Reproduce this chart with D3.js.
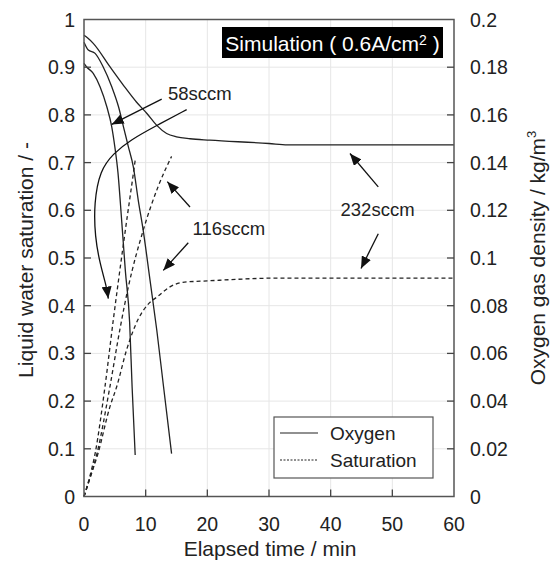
<!DOCTYPE html>
<html>
<head>
<meta charset="utf-8">
<script src="https://cdn.jsdelivr.net/npm/d3@7"></script>
<style>
  body { margin: 0; background: #fff; }
  svg text { font-family: "Liberation Sans", Arial, sans-serif; fill: #222; }
</style>
</head>
<body>
<div id="chart"></div>
<script>
// *********************************************
// DATA
// *********************************************

// oxygen gas density, kg/m3 (right axis)
var o2Time58  = [0, 0.4, 1.5, 2.6, 3.7, 4.5, 5.0, 5.5, 6.1, 6.7, 7.4, 7.8, 8.3];
var o2Dens58  = [0.1816, 0.1802, 0.1774, 0.1718, 0.1634, 0.155, 0.1466, 0.136, 0.116, 0.0948, 0.073, 0.046, 0.0174];
var o2Time116 = [0, 0.7, 1.8, 3.1, 4.5, 5.6, 6.4, 7.2, 8.0, 8.8, 9.6, 10.7, 11.8, 12.9, 14.2];
var o2Dens116 = [0.1905, 0.1872, 0.1858, 0.1802, 0.1718, 0.1634, 0.155, 0.1466, 0.1382, 0.1242, 0.1116, 0.0908, 0.0698, 0.046, 0.018];
var o2Time232 = [0, 0.6, 1.5, 4.2, 6.4, 8.5, 10.2, 11.8, 13.4, 15.0, 17.2, 20.4, 30, 33, 60];
var o2Dens232 = [0.1934, 0.1922, 0.19, 0.1802, 0.1724, 0.1654, 0.1606, 0.1556, 0.1522, 0.1508, 0.15, 0.1494, 0.148, 0.1474, 0.1474];

// liquid water saturation, - (left axis)
var satTime58  = [0, 0.9, 1.8, 3.4, 4.75, 6.4, 8.0, 8.3];
var satVal58   = [0, 0.04, 0.09, 0.23, 0.37, 0.53, 0.677, 0.705];
var satTime116 = [0, 1.0, 2.1, 4.2, 5.8, 7.2, 9.6, 12.0, 14.2];
var satVal116  = [0, 0.04, 0.09, 0.23, 0.349, 0.44, 0.558, 0.649, 0.713];
var satTime232 = [0, 1.0, 2.2, 4.2, 5.3, 6.9, 8.8, 10.2, 12.0, 14.0, 16.0, 20.0, 32.0, 60];
var satVal232  = [0, 0.04, 0.087, 0.188, 0.23, 0.307, 0.372, 0.40, 0.42, 0.44, 0.449, 0.452, 0.458, 0.458];

// axis ticks
var xTicks = [0, 10, 20, 30, 40, 50, 60];
var satTicks = [0, 0.1, 0.2, 0.3, 0.4, 0.5, 0.6, 0.7, 0.8, 0.9, 1];
var densTicks = [0, 0.02, 0.04, 0.06, 0.08, 0.1, 0.12, 0.14, 0.16, 0.18, 0.2];

// annotations, in (time, saturation) units
var labelNames = ["58sccm", "116sccm", "232sccm"];
var labelPos = [[18.8, 0.846], [23.5, 0.5625], [47.6, 0.602]];
var arrows = [
  [[12.6, 0.833], [4.49, 0.78]],
  [[17.19, 0.607], [13.51, 0.66]],
  [[16.91, 0.532], [12.86, 0.474]],
  [[47.72, 0.649], [43.13, 0.719]],
  [[47.72, 0.551], [44.92, 0.478]]
];
var curvedArrow = [[16.65, 0.811], [11.79, 0.778], [7.46, 0.747], [4.75, 0.719], [2.59, 0.684],
                   [1.62, 0.615], [1.78, 0.544], [2.59, 0.488], [3.68, 0.439], [3.94, 0.415]];

// *********************************************
// SETUP
// *********************************************
var width = 551, height = 561;
var margin = {left: 84, right: 97, top: 19.5, bottom: 64.5};
var svg = d3.select("#chart").append("svg")
  .attr("width", width).attr("height", height);

var x = d3.scaleLinear().domain([0, 60]).range([margin.left, width - margin.right]);
var ySat = d3.scaleLinear().domain([0, 1]).range([height - margin.bottom, margin.top]);
var yDens = d3.scaleLinear().domain([0, 0.2]).range([height - margin.bottom, margin.top]);

var plot = svg.append("g").attr("id", "plot");

// grid
plot.append("g").selectAll("line.gx").data(xTicks.slice(1, -1)).enter().append("line")
  .attr("x1", d => x(d)).attr("x2", d => x(d))
  .attr("y1", ySat(0)).attr("y2", ySat(1))
  .style("stroke", "#e6e6e6").style("stroke-width", 1);
plot.append("g").selectAll("line.gy").data(satTicks.slice(1, -1)).enter().append("line")
  .attr("x1", x(0)).attr("x2", x(60))
  .attr("y1", d => ySat(d)).attr("y2", d => ySat(d))
  .style("stroke", "#e6e6e6").style("stroke-width", 1);

// arrow head
svg.append("defs").append("marker")
  .attr("id", "head").attr("markerUnits", "userSpaceOnUse")
  .attr("viewBox", "0 0 12 10").attr("refX", 12).attr("refY", 5)
  .attr("markerWidth", 12).attr("markerHeight", 10).attr("orient", "auto")
  .append("path").attr("d", "M0,0L12,5L0,10Z").style("fill", "#111");

// curves
var satLine = d3.line().curve(d3.curveMonotoneX)
  .x(d => x(d[0])).y(d => ySat(d[1]));
var densLine = d3.line().curve(d3.curveMonotoneX)
  .x(d => x(d[0])).y(d => yDens(d[1]));

var o2Series = [[o2Time58, o2Dens58], [o2Time116, o2Dens116], [o2Time232, o2Dens232]];
var satSeries = [[satTime58, satVal58], [satTime116, satVal116], [satTime232, satVal232]];

plot.append("g").selectAll("path").data(o2Series).enter().append("path")
  .attr("d", s => densLine(d3.zip(s[0], s[1])))
  .style("fill", "none").style("stroke", "#222").style("stroke-width", 1.3);

plot.append("g").selectAll("path").data(satSeries).enter().append("path")
  .attr("d", s => satLine(d3.zip(s[0], s[1])))
  .style("fill", "none").style("stroke", "#222").style("stroke-width", 1.3)
  .style("stroke-dasharray", "4,3");

// frame
plot.append("rect")
  .attr("x", x(0)).attr("y", ySat(1))
  .attr("width", x(60) - x(0)).attr("height", ySat(0) - ySat(1))
  .style("fill", "none").style("stroke", "#555").style("stroke-width", 1.5);

// inside ticks
var tk = 7;
plot.append("g").selectAll("line").data(xTicks.slice(1, -1)).enter().append("line")
  .attr("x1", d => x(d)).attr("x2", d => x(d))
  .attr("y1", ySat(0)).attr("y2", ySat(0) - tk)
  .style("stroke", "#444").style("stroke-width", 1.3);
plot.append("g").selectAll("line").data(satTicks.slice(1, -1)).enter().append("line")
  .attr("x1", x(0)).attr("x2", x(0) + tk)
  .attr("y1", d => ySat(d)).attr("y2", d => ySat(d))
  .style("stroke", "#444").style("stroke-width", 1.3);
plot.append("g").selectAll("line").data(densTicks.slice(1, -1)).enter().append("line")
  .attr("x1", x(60)).attr("x2", x(60) - tk)
  .attr("y1", d => yDens(d)).attr("y2", d => yDens(d))
  .style("stroke", "#444").style("stroke-width", 1.3);

// tick labels
var fs = 19.5;
svg.append("g").selectAll("text").data(xTicks).enter().append("text")
  .attr("x", d => x(d)).attr("y", ySat(0) + 34)
  .attr("text-anchor", "middle").style("font-size", fs + "px")
  .text(d => d);
svg.append("g").selectAll("text").data(satTicks).enter().append("text")
  .attr("x", x(0) - 9).attr("y", d => ySat(d) + 7)
  .attr("text-anchor", "end").style("font-size", fs + "px")
  .text(d => d);
svg.append("g").selectAll("text").data(densTicks).enter().append("text")
  .attr("x", x(60) + 16).attr("y", d => yDens(d) + 7)
  .attr("text-anchor", "start").style("font-size", fs + "px")
  .text(d => d);

// axis titles
svg.append("text").attr("x", 270).attr("y", 556)
  .attr("text-anchor", "middle").style("font-size", "21px")
  .text("Elapsed time / min");
svg.append("text").attr("transform", "translate(33," + (ySat(0.5) + 2) + ") rotate(-90)")
  .attr("text-anchor", "middle").style("font-size", "21px")
  .text("Liquid water saturation / -");
var rt = svg.append("text").attr("transform", "translate(545," + (ySat(0.5)) + ") rotate(-90)")
  .attr("text-anchor", "middle").style("font-size", "21px");
rt.append("tspan").text("Oxygen gas density / kg/m");
rt.append("tspan").attr("dy", -9).style("font-size", "13px").text("3");

// title box
svg.append("rect").attr("x", 222).attr("y", 27).attr("width", 221).attr("height", 31)
  .style("fill", "#000");
var tt = svg.append("text").attr("x", 332.5).attr("y", 50.5)
  .attr("text-anchor", "middle").style("font-size", "21px").style("fill", "#fff");
tt.append("tspan").style("fill", "#fff").text("Simulation ( 0.6A/cm");
tt.append("tspan").style("fill", "#fff").attr("dy", -6).style("font-size", "14px").text("2");
tt.append("tspan").style("fill", "#fff").attr("dy", 6).text(" )");

// annotations
var ann = svg.append("g").attr("id", "annotations");
ann.selectAll("line").data(arrows).enter().append("line")
  .attr("x1", d => x(d[0][0])).attr("y1", d => ySat(d[0][1]))
  .attr("x2", d => x(d[1][0])).attr("y2", d => ySat(d[1][1]))
  .style("stroke", "#111").style("stroke-width", 1.3)
  .attr("marker-end", "url(#head)");
ann.append("path")
  .attr("d", d3.line().curve(d3.curveBasis).x(d => x(d[0])).y(d => ySat(d[1]))(curvedArrow))
  .style("fill", "none").style("stroke", "#111").style("stroke-width", 1.3)
  .attr("marker-end", "url(#head)");
ann.selectAll("text").data(labelNames).enter().append("text")
  .attr("x", (d, i) => x(labelPos[i][0])).attr("y", (d, i) => ySat(labelPos[i][1]) + 7)
  .attr("text-anchor", "middle").style("font-size", "18.5px")
  .text(d => d);

// legend
var lg = svg.append("g").attr("id", "legend");
lg.append("rect").attr("x", 274).attr("y", 417).attr("width", 159).attr("height", 61)
  .style("fill", "#fff").style("stroke", "#555").style("stroke-width", 1.2);
lg.append("line").attr("x1", 280).attr("x2", 318).attr("y1", 433).attr("y2", 433)
  .style("stroke", "#222").style("stroke-width", 1.2);
lg.append("line").attr("x1", 280).attr("x2", 318).attr("y1", 460).attr("y2", 460)
  .style("stroke", "#222").style("stroke-width", 1.2).style("stroke-dasharray", "2,1.5");
lg.append("text").attr("x", 330).attr("y", 440).style("font-size", "19px").text("Oxygen");
lg.append("text").attr("x", 330).attr("y", 467).style("font-size", "19px").text("Saturation");
</script>
</body>
</html>
